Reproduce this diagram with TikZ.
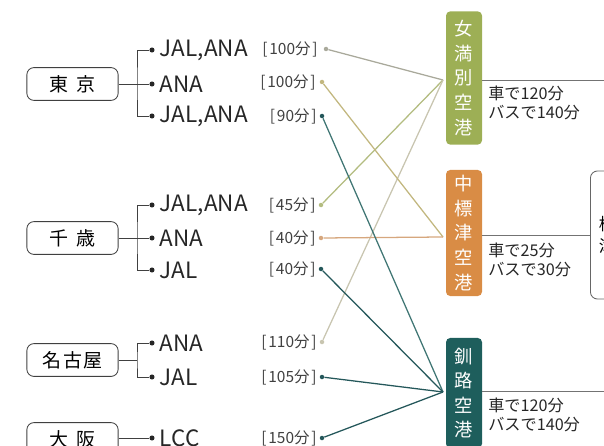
\documentclass[tikz,border=0pt]{standalone}
\usepackage{fontspec}
\setmainfont{Noto Sans CJK JP}
\usetikzlibrary{positioning}
\definecolor{memgreen}{HTML}{9DAF55}
\definecolor{nakorange}{HTML}{D98C45}
\definecolor{kusteal}{HTML}{1E5E5C}
\definecolor{grayline}{HTML}{A9A99B}
\definecolor{khakiline}{HTML}{C2B77F}
\definecolor{oliveline}{HTML}{B3BC80}
\definecolor{tanline}{HTML}{D6A77E}
\definecolor{beigeline}{HTML}{C8C5B0}
\definecolor{darkline}{HTML}{24575A}
\newcommand{\bmin}[1]{[\hspace{0.12em}#1\hspace{0.12em}]}
\tikzset{
  city/.style={
    draw=black!75,
    line width=0.6pt,
    rounded corners=5pt,
    minimum width=2.28cm,
    minimum height=0.82cm,
    font=\fontsize{13.5}{13.5}\selectfont
  },
  carrier/.style={
    anchor=west,
    inner sep=0pt,
    font=\fontsize{16}{16}\selectfont,
    text=black!85
  },
  mins/.style={
    anchor=east,
    inner sep=0pt,
    font=\fontsize{11}{11}\selectfont,
    text=black!75
  },
  pin/.style={circle, fill=black!85, inner sep=0pt, minimum size=3.6pt},
  tip/.style={circle, inner sep=0pt, minimum size=3.2pt},
  port/.style={
    rounded corners=3pt,
    minimum width=0.9cm,
    inner sep=0pt,
    align=center,
    text=white,
    font=\fontsize{13}{17.5}\selectfont
  },
  note/.style={
    anchor=north west,
    inner sep=0pt,
    align=left,
    font=\fontsize{11.5}{13.5}\selectfont,
    text=black!85
  },
  branch/.style={draw=black!75, line width=0.6pt},
  route/.style={line width=0.9pt},
  access/.style={draw=black!55, line width=0.6pt}
}

\begin{document}
\begin{tikzpicture}[x=0.025cm, y=-0.025cm]
  \useasboundingbox (0,0) rectangle (604,446);

  % departure cities
  \node[city] (tokyo) at (72.5,84) {東\hspace{0.4em}京};
  \node[city] (chitose) at (72.5,238) {千\hspace{0.4em}歳};
  \node[city] (nagoya) at (72.5,360) {名\hspace{0.1em}古\hspace{0.1em}屋};
  \node[city] (osaka) at (72.5,439) {大\hspace{0.4em}阪};

  \coordinate (tkfork) at (137,84);
  \coordinate (chfork) at (137,238);
  \coordinate (ngfork) at (137,360);

  % Tokyo
  \node[pin] (tk1) at (152,50) {};
  \node[pin] (tk2) at (152,84) {};
  \node[pin] (tk3) at (152,116) {};
  \node[carrier, right=0.12cm of tk1] (tk1a) {JAL,ANA};
  \node[carrier, right=0.12cm of tk2] (tk2a) {ANA};
  \node[carrier, right=0.12cm of tk3] (tk3a) {JAL,ANA};
  \node[mins] (tk1t) at (318,49) {\bmin{100分}};
  \node[mins] (tk2t) at (316,82) {\bmin{100分}};
  \node[mins] (tk3t) at (317,116) {\bmin{90分}};
  \node[tip, fill=grayline] (tk1e) at (326,49) {};
  \node[tip, fill=khakiline] (tk2e) at (322,82) {};
  \node[tip, fill=darkline] (tk3e) at (322,116) {};

  % Chitose
  \node[pin] (ch1) at (152,205) {};
  \node[pin] (ch2) at (152,238) {};
  \node[pin] (ch3) at (152,270) {};
  \node[carrier, right=0.12cm of ch1] (ch1a) {JAL,ANA};
  \node[carrier, right=0.12cm of ch2] (ch2a) {ANA};
  \node[carrier, right=0.12cm of ch3] (ch3a) {JAL};
  \node[mins] (ch1t) at (316,205) {\bmin{45分}};
  \node[mins] (ch2t) at (316,238) {\bmin{40分}};
  \node[mins] (ch3t) at (316,269) {\bmin{40分}};
  \node[tip, fill=oliveline] (ch1e) at (321,205) {};
  \node[tip, fill=tanline] (ch2e) at (321,238) {};
  \node[tip, fill=darkline] (ch3e) at (321,269) {};

  % Nagoya
  \node[pin] (ng1) at (152,343) {};
  \node[pin] (ng2) at (152,377) {};
  \node[carrier, right=0.12cm of ng1] (ng1a) {ANA};
  \node[carrier, right=0.12cm of ng2] (ng2a) {JAL};
  \node[mins] (ng1t) at (317,342) {\bmin{110分}};
  \node[mins] (ng2t) at (317,377) {\bmin{105分}};
  \node[tip, fill=beigeline] (ng1e) at (322,342) {};
  \node[tip, fill=darkline] (ng2e) at (322,377) {};

  % Osaka
  \node[pin] (os1) at (152,438) {};
  \node[carrier, right=0.12cm of os1] (os1a) {LCC};
  \node[mins] (os1t) at (317,438) {\bmin{150分}};
  \node[tip, fill=darkline] (os1e) at (322,438) {};

  % brackets
  \draw[branch] (tokyo.east) -- (tkfork);
  \draw[branch] (tk1) -| (tkfork) |- (tk3);
  \draw[branch] (tk2) -- (tkfork);
  \draw[branch] (chitose.east) -- (chfork);
  \draw[branch] (ch1) -| (chfork) |- (ch3);
  \draw[branch] (ch2) -- (chfork);
  \draw[branch] (nagoya.east) -- (ngfork);
  \draw[branch] (ng1) -| (ngfork) |- (ng2);
  \draw[branch] (osaka.east |- os1) -- (os1);

  % airports
  \node[port, fill=memgreen, minimum height=3.33cm] (mem) at (464,78) {女\\満\\別\\空\\港};
  \node[port, fill=nakorange, minimum height=3.15cm] (nak) at (464,233) {中\\標\\津\\空\\港};
  \node[port, fill=kusteal, minimum height=2.75cm] (kus) at (464,393) {釧\\路\\空\\港};

  \coordinate (memin) at (443,80);
  \coordinate (nakin) at (443,237);
  \coordinate (kusin) at (443,392);

  % flights
  \draw[route, draw=grayline] (tk1e) -- (memin);
  \draw[route, draw=oliveline] (ch1e) -- (memin);
  \draw[route, draw=beigeline] (ng1e) -- (memin);
  \draw[route, draw=khakiline] (tk2e) -- (nakin);
  \draw[route, draw=tanline] (ch2e) -- (nakin);
  \draw[route, draw=kusteal!85] (tk3e) -- (kusin);
  \draw[route, draw=darkline] (ch3e) -- (kusin);
  \draw[route, draw=darkline] (ng2e) -- (kusin);
  \draw[route, draw=darkline] (os1e) -- (kusin);

  % onward access
  \node[draw=black!60, line width=0.6pt, rounded corners=5pt, anchor=west,
        minimum width=2cm, minimum height=3.2cm, text width=1.6cm, inner xsep=6pt,
        align=left, font=\fontsize{12}{16}\selectfont] (shibetsu) at (590,235) {標\\津};
  \coordinate (memout) at (604,80);
  \coordinate (kusout) at (604,391);
  \draw[access] (memout -| mem.east) -- (memout);
  \draw[access] (nak.east |- shibetsu.west) -- (shibetsu.west);
  \draw[access] (kusout -| kus.east) -- (kusout);

  \node[note] (memnote) at (488,86) {車で120分\\バスで140分};
  \node[note] (naknote) at (488,243) {車で25分\\バスで30分};
  \node[note] (kusnote) at (488,398) {車で120分\\バスで140分};
\end{tikzpicture}
\end{document}
